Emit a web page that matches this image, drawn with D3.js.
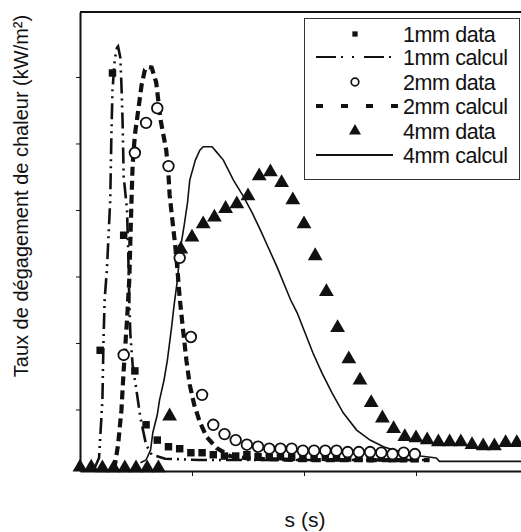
<!DOCTYPE html>
<html>
<head>
<meta charset="utf-8">
<script src="https://cdn.jsdelivr.net/npm/d3@7/dist/d3.min.js"></script>
<style>
  html, body { margin: 0; padding: 0; background: #fff; }
  svg { display: block; font-family: 'Liberation Sans', Arial, sans-serif; }
</style>
</head>
<body>
<svg width="521" height="532"></svg>
<script>
// measured data (s, kW/m2)
var t1mmData = [18, 29, 39, 49, 59, 69, 79, 89, 99, 109, 119, 129, 139, 149, 159,
  169, 179, 189, 199, 209, 219, 229, 239, 249, 259, 269, 279, 289, 299];
var v1mmData = [189, 606, 362, 158, 77, 54, 44, 41, 35, 35, 32, 30, 30, 32, 29,
  28, 29, 28, 28, 27, 28, 27, 27, 27, 26, 27, 26, 26, 26];

var t2mmData = [39, 49, 59, 69, 79, 89, 99, 109, 119, 129, 139, 149, 159, 169,
  179, 189, 199, 209, 219, 229, 239, 249, 259, 269, 279, 289, 299];
var v2mmData = [182, 486, 531, 553, 466, 328, 209, 122, 77, 63, 54, 47, 44, 41,
  41, 41, 38, 38, 38, 38, 36, 36, 36, 35, 33, 35, 33];

var t4mmData = [0, 10, 20, 30, 40, 50, 60, 70, 80, 90, 100, 110, 120, 130, 140,
  150, 160, 170, 180, 190, 200, 210, 220, 230, 240, 250, 260, 270, 280, 290, 300,
  310, 320, 330, 340, 350, 360, 370, 380, 390];
var v4mmData = [13, 13, 12, 12, 12, 12, 12, 12, 90, 341, 359, 379, 389, 402, 409,
  421, 451, 457, 441, 415, 379, 331, 277, 223, 176, 144, 110, 87, 71, 59, 57,
  54, 51, 51, 51, 47, 45, 45, 50, 50];

var t1mmCalc = [13, 17, 20, 21, 22, 24, 27, 28, 29, 31, 33, 34, 36, 37, 38, 39,
  42, 43, 44, 45, 47, 51, 54, 59, 64, 76, 107, 312];
var v1mmCalc = [12, 27, 114, 205, 265, 310, 415, 510, 580, 626, 644, 646, 629,
  588, 535, 450, 400, 340, 265, 212, 167, 122, 87, 47, 32, 26, 24, 24];

var t2mmCalc = [29, 31, 34, 37, 39, 42, 44, 45, 46, 47, 49, 52, 55, 58, 61, 64,
  68, 72, 77, 79, 80, 82, 85, 87, 89, 92, 95, 98, 102, 107, 113, 122, 134, 152,
  196, 312];
var v2mmCalc = [12, 15, 47, 99, 159, 235, 295, 355, 415, 468, 513, 550, 588, 611,
  615, 614, 592, 535, 490, 453, 423, 392, 347, 310, 268, 220, 174, 137, 107, 81,
  59, 42, 30, 26, 24, 24];

var t4mmCalc = [54, 59, 63, 65, 69, 71, 75, 78, 82, 84, 87, 89, 93, 96, 98, 103,
  107, 110, 118, 122, 128, 137, 146, 154, 161, 168, 176, 188, 194, 201, 208, 216,
  225, 235, 247, 259, 271, 280, 292, 304, 318, 321, 394];
var v4mmCalc = [20, 24, 39, 65, 92, 114, 144, 174, 227, 257, 295, 335, 377, 411,
  445, 475, 490, 495, 495, 487, 475, 445, 420, 395, 370, 344, 314, 265, 245, 215,
  185, 155, 125, 95, 69, 54, 44, 39, 35, 30, 27, 22, 22];

var xTicks = [100, 200, 300];
var yTicks = [100, 200, 300, 400, 500, 600];
var legendLabels = ['1mm data', '1mm calcul', '2mm data', '2mm calcul', '4mm data', '4mm calcul'];

var svg = d3.select('svg');

var x = d3.scaleLinear().domain([0, 393.75]).range([80, 521]);
var y = d3.scaleLinear().domain([7.5, 697.7]).range([471, 12]);

function zip(ts, vs) {
  return ts.map(function (t, i) { return [t, vs[i]]; });
}

var line = d3.line()
  .x(function (d) { return x(d[0]); })
  .y(function (d) { return y(d[1]); });

// curves
svg.append('path')
  .attr('d', line(zip(t1mmCalc, v1mmCalc)))
  .style('fill', 'none')
  .style('stroke', '#111')
  .style('stroke-width', 2.6)
  .style('stroke-dasharray', '16,5,2,5,2,5');

svg.append('path')
  .attr('d', line(zip(t2mmCalc, v2mmCalc)))
  .style('fill', 'none')
  .style('stroke', '#111')
  .style('stroke-width', 4.2)
  .style('stroke-dasharray', '9,5');

svg.append('path')
  .attr('d', line(zip(t4mmCalc, v4mmCalc)))
  .style('fill', 'none')
  .style('stroke', '#111')
  .style('stroke-width', 1.6);

// markers
svg.selectAll('.sq')
  .data(zip(t1mmData, v1mmData))
  .enter().append('path')
  .attr('transform', function (d) { return 'translate(' + x(d[0]) + ',' + y(d[1]) + ')'; })
  .attr('d', d3.symbol().type(d3.symbolSquare).size(56))
  .style('fill', '#111');

svg.selectAll('.ci')
  .data(zip(t2mmData, v2mmData))
  .enter().append('circle')
  .attr('cx', function (d) { return x(d[0]); })
  .attr('cy', function (d) { return y(d[1]); })
  .attr('r', 5.3)
  .style('fill', '#fff')
  .style('stroke', '#111')
  .style('stroke-width', 1.8);

svg.selectAll('.tr')
  .data(zip(t4mmData, v4mmData))
  .enter().append('path')
  .attr('transform', function (d) { return 'translate(' + x(d[0]) + ',' + y(d[1]) + ')'; })
  .attr('d', d3.symbol().type(d3.symbolTriangle).size(95))
  .style('fill', '#111');

// axes
var xAxis = svg.append('g')
  .attr('transform', 'translate(0,' + y.range()[0] + ')')
  .call(d3.axisBottom(x).tickValues(xTicks).tickFormat('').tickSizeInner(5).tickSizeOuter(0));

var yAxis = svg.append('g')
  .attr('transform', 'translate(' + x.range()[0] + ',0)')
  .call(d3.axisLeft(y).tickValues(yTicks).tickFormat('').tickSizeInner(4).tickSizeOuter(0));

[xAxis, yAxis].forEach(function (a) {
  a.select('.domain').style('stroke', '#111').style('stroke-width', 2);
  a.selectAll('.tick line').style('stroke', '#111').style('stroke-width', 1);
});

svg.append('line')
  .attr('x1', x.range()[0]).attr('x2', x.range()[1])
  .attr('y1', y.range()[1]).attr('y2', y.range()[1])
  .style('stroke', '#111')
  .style('stroke-width', 2);

// axis titles
svg.append('text')
  .attr('transform', 'translate(28,196) rotate(-90)')
  .attr('text-anchor', 'middle')
  .style('font-size', '20px')
  .style('fill', '#111')
  .text('Taux de dégagement de chaleur (kW/m²)');

svg.append('text')
  .attr('x', 305)
  .attr('y', 527)
  .attr('text-anchor', 'middle')
  .style('font-size', '21px')
  .style('fill', '#111')
  .text('s (s)');

// legend
var legend = svg.append('g');
legend.append('rect')
  .attr('x', 304.5).attr('y', 18.5)
  .attr('width', 215).attr('height', 161)
  .style('fill', '#fff')
  .style('stroke', '#333')
  .style('stroke-width', 1);

var rowY = [34, 57, 82, 106, 131, 155];

legendLabels.forEach(function (label, i) {
  var ry = rowY[i];
  if (i === 0) {
    legend.append('path')
      .attr('transform', 'translate(355,' + ry + ')')
      .attr('d', d3.symbol().type(d3.symbolSquare).size(28))
      .style('fill', '#111');
  } else if (i === 2) {
    legend.append('circle')
      .attr('cx', 355).attr('cy', ry).attr('r', 3.8)
      .style('fill', '#fff').style('stroke', '#111').style('stroke-width', 1.7);
  } else if (i === 4) {
    legend.append('path')
      .attr('transform', 'translate(355,' + ry + ')')
      .attr('d', d3.symbol().type(d3.symbolTriangle).size(62))
      .style('fill', '#111');
  } else {
    var styles = {
      1: { w: 2, dash: '20,5,2,9,2,10', x2: 400 },
      3: { w: 4, dash: '7,18', x2: 398 },
      5: { w: 1.8, dash: null, x2: 393 }
    };
    var s = styles[i];
    legend.append('line')
      .attr('x1', 316).attr('x2', s.x2)
      .attr('y1', ry).attr('y2', ry)
      .style('stroke', '#111')
      .style('stroke-width', s.w)
      .style('stroke-dasharray', s.dash);
  }
  legend.append('text')
    .attr('x', 403)
    .attr('y', ry + 7.5)
    .style('font-size', '21.5px')
    .style('letter-spacing', '-0.4px')
    .style('fill', '#111')
    .text(label);
});
</script>
</body>
</html>
